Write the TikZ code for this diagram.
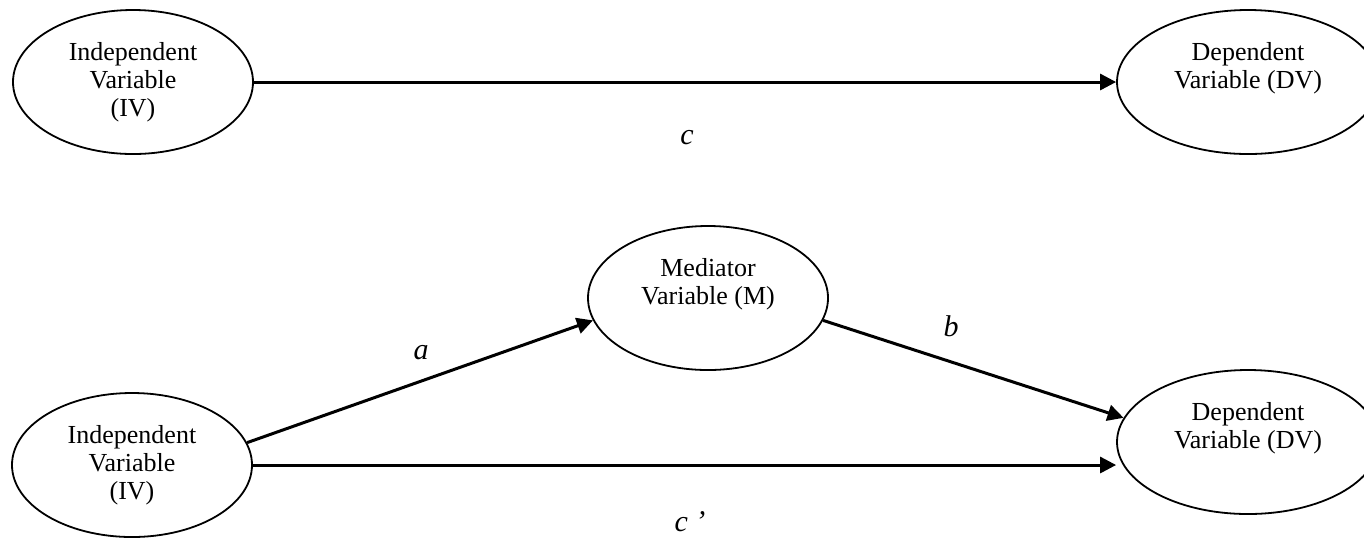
\documentclass[tikz,border=0pt]{standalone}
\usepackage{fontspec}
\setmainfont{Liberation Serif}
\usetikzlibrary{positioning, arrows.meta, shapes.geometric}

\begin{document}
\begin{tikzpicture}[x=0.5pt, y=-0.5pt,
    var/.style={draw, ellipse, line width=0.9pt, minimum width=120pt, minimum height=72pt, inner sep=0pt},
    vartext/.style={align=center, inner sep=0pt, font=\fontsize{13pt}{14pt}\selectfont},
    link/.style={line width=1.5pt, -{Triangle[length=8pt, width=8pt]}},
    coef/.style={inner sep=0pt, font=\fontsize{15pt}{16pt}\selectfont\itshape}]
    \useasboundingbox (0,0) rectangle (1364,538);

    % Total effect
    \node[var] (iv1) at (133,82) {};
    \node[var, minimum width=131pt] (dv1) at (1248,82) {};
    \node[vartext, below=16.5pt of iv1.north] (iv1t) {Independent\\Variable\\(IV)};
    \node[vartext, below=16.5pt of dv1.north] (dv1t) {Dependent\\Variable (DV)};
    \draw[link] (iv1.east) -- (dv1.west);
    \node[coef] (c) at (687,138) {c};

    % Mediation model
    \node[var] (m) at (708,298) {};
    \node[var] (iv2) at (132,465) {};
    \node[var, minimum width=131pt] (dv2) at (1248,442) {};
    \node[vartext, below=16.5pt of m.north] (mt) {Mediator\\Variable (M)};
    \node[vartext, below=16.5pt of iv2.north] (iv2t) {Independent\\Variable\\(IV)};
    \node[vartext, below=16.5pt of dv2.north] (dv2t) {Dependent\\Variable (DV)};
    \draw[link] (iv2.11) -- (m.191);
    \draw[link] (m.-11) -- (dv2.169);
    \draw[link] (iv2.east) -- (iv2.east -| dv2.west);
    \node[coef] (a) at (421,353) {a};
    \node[coef] (b) at (951,326) {b};
    \node[coef] (cp) at (690,522) {c ’};
\end{tikzpicture}
\end{document}
